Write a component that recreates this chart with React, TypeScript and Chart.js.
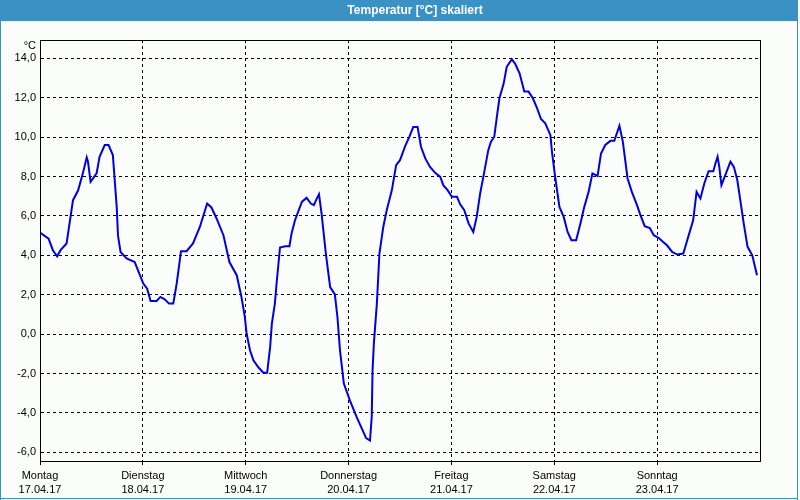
import React, { useEffect, useRef } from "react";
import { Chart, registerables } from "chart.js";

Chart.register(...registerables);

// hours since Monday 17.04.17 00:00
const hours = [
  0, 2.0, 3.0, 4.0, 4.8, 6.2, 7.7, 8.9, 10.0, 10.9, 11.2, 11.8, 13.2, 13.9, 15.1, 16.0, 17.0, 17.9, 18.2,
  18.8, 20.2, 22.1, 24.1, 25.0, 25.8, 27.2, 28.1, 29.1, 30.1, 31.1, 31.9, 32.9, 34.2, 35.7, 37.3, 39.0,
  40.0, 41.2, 42.8, 44.2, 45.9, 47.0, 47.8, 48.2, 49.0, 49.8, 50.9, 52.1, 53.0, 53.7, 54.1, 54.8, 55.2,
  56.0, 57.2, 58.2, 58.7, 59.5, 61.1, 62.2, 63.2, 63.9, 64.6, 65.1, 65.7, 66.7, 67.7, 68.8, 69.4, 70.0,
  70.9, 72.3, 73.9, 75.1, 76.1, 77.0, 77.4, 77.6, 77.9, 78.6, 79.2, 80.1, 80.9, 82.1, 83.1, 84.0, 85.2,
  86.2, 87.1, 88.1, 88.9, 89.9, 91.0, 92.2, 93.4, 94.1, 95.1, 96.1, 97.3, 98.0, 99.0, 100.0, 101.1,
  101.9, 102.7, 103.6, 104.6, 105.2, 106.0, 106.6, 107.2, 108.2, 108.9, 110.1, 110.9, 111.9, 113.0,
  114.0, 115.0, 116.0, 116.9, 117.9, 119.1, 119.5, 120.2, 121.2, 122.2, 123.1, 124.0, 125.1, 126.1,
  127.0, 128.0, 128.9, 130.1, 130.9, 131.9, 133.1, 134.0, 135.2, 136.0, 137.1, 138.1, 139.3, 140.1,
  141.1, 142.3, 143.2, 144.4, 145.4, 146.3, 147.5, 148.7, 150.1, 150.8, 151.6, 152.4, 153.2, 154.1,
  155.0, 156.0, 157.1, 157.6, 158.1, 158.5, 159.0, 159.9, 161.1, 161.9, 162.7, 163.4, 164.2, 165.1,
  166.2, 167.3,
];

const temps = [
  5.16, 4.85, 4.26, 3.95, 4.26, 4.6, 6.8, 7.3, 8.16, 8.97, 8.75, 7.73, 8.16, 9.0, 9.6, 9.6, 9.09, 6.46, 5.0,
  4.17, 3.84, 3.66, 2.57, 2.31, 1.68, 1.68, 1.89, 1.77, 1.55, 1.55, 2.57, 4.21, 4.21, 4.6, 5.44, 6.63,
  6.43, 5.87, 5.02, 3.66, 2.99, 1.89, 0.87, 0.03, -0.82, -1.33, -1.67, -1.96, -1.96, -0.65, 0.53, 1.55, 2.57,
  4.4, 4.46, 4.46, 5.11, 5.78, 6.71, 6.92, 6.63, 6.55, 6.89, 7.1, 6.12, 4.09, 2.39, 2.02, 0.87, -0.82,
  -2.51, -3.36, -4.21, -4.8, -5.28, -5.4, -4.21, -1.84, -0.48, 1.55, 4.09, 5.44, 6.29, 7.31, 8.58, 8.83, 9.54,
  10.02, 10.52, 10.52, 9.51, 8.92, 8.49, 8.19, 7.98, 7.56, 7.31, 6.97, 6.97, 6.6, 6.29, 5.62, 5.19,
  5.95, 7.14, 8.16, 9.34, 9.76, 10.02, 11.03, 11.97, 12.73, 13.57, 13.95, 13.71, 13.24, 12.31,
  12.31, 11.97, 11.46, 10.92, 10.7, 10.1, 9.17, 7.98, 6.46, 5.95, 5.19, 4.77, 4.77, 5.62,
  6.46, 7.22, 8.16, 8.03, 9.17, 9.6, 9.81, 9.81, 10.58, 9.76, 7.9, 7.22, 6.55, 6.04,
  5.48, 5.39, 5.02, 4.88, 4.68, 4.51, 4.17, 4.04, 4.09, 4.6, 5.19, 5.78, 7.22, 6.89,
  7.65, 8.27, 8.27, 8.66, 9.0, 8.49, 7.56, 8.07, 8.75, 8.49, 7.82, 6.8, 5.62, 4.43,
  4.0, 2.99,
];

const dayNames = ["Montag", "Dienstag", "Mittwoch", "Donnerstag", "Freitag", "Samstag", "Sonntag"];
const dayDates = ["17.04.17", "18.04.17", "19.04.17", "20.04.17", "21.04.17", "22.04.17", "23.04.17"];

const title = "Temperatur [°C] skaliert";
const unit = "°C";

const FONT = "'Liberation Sans', Arial, sans-serif";

export default function App() {
  const ref = useRef<HTMLCanvasElement | null>(null);

  useEffect(() => {
    document.body.style.margin = "0";
    const canvas = ref.current;
    if (!canvas) return;

    const framePlugin = {
      id: "frame",
      beforeDraw(chart: any) {
        const ctx = chart.ctx;
        ctx.save();
        ctx.fillStyle = "#fbfdfa";
        ctx.fillRect(0, 0, 800, 500);
        ctx.fillStyle = "#3b91c4";
        ctx.fillRect(0, 0, 798, 21);
        ctx.fillRect(0, 0, 1, 500);
        ctx.fillRect(797, 0, 1, 500);
        ctx.fillRect(0, 498, 798, 1);
        ctx.fillStyle = "#ffffff";
        ctx.font = "bold 12px " + FONT;
        ctx.textAlign = "center";
        ctx.textBaseline = "middle";
        ctx.fillText(title, 415, 11);
        ctx.restore();
      },
      afterDraw(chart: any) {
        const ctx = chart.ctx;
        const a = chart.chartArea;
        ctx.save();
        ctx.strokeStyle = "#000000";
        ctx.lineWidth = 1;
        ctx.setLineDash([]);
        ctx.strokeRect(Math.round(a.left) + 0.5, Math.round(a.top) + 0.5, Math.round(a.right - a.left), Math.round(a.bottom - a.top));
        ctx.fillStyle = "#000000";
        ctx.font = "11px " + FONT;
        ctx.textAlign = "right";
        ctx.textBaseline = "middle";
        ctx.fillText(unit, 36, 46);
        ctx.restore();
      },
    };

    const chart = new Chart(canvas, {
      type: "line",
      data: {
        datasets: [
          {
            data: hours.map((h, i) => ({ x: h, y: temps[i] })),
            borderColor: "#0000e6",
            borderWidth: 2,
            pointRadius: 0,
            tension: 0,
            fill: false,
          },
        ],
      },
      options: {
        animation: false,
        responsive: false,
        events: [],
        layout: { padding: { top: 40, right: 40, left: 0, bottom: 0 } },
        plugins: { legend: { display: false }, tooltip: { enabled: false }, title: { display: false } },
        scales: {
          x: {
            type: "linear",
            min: 0,
            max: 168,
            afterFit: (s: any) => {
              s.height = 39;
            },
            ticks: {
              stepSize: 24,
              autoSkip: false,
              maxRotation: 0,
              padding: 3,
              color: "#000000",
              font: { family: FONT, size: 11, lineHeight: 1.36 },
              callback: (v: any) => {
                const i = Math.round(Number(v) / 24);
                if (i >= 0 && i < dayNames.length) return [dayNames[i], dayDates[i]];
                return "";
              },
            },
            grid: {
              color: "#000000",
              lineWidth: 1,
              tickLength: 4,
              tickBorderDash: [3, 3],
              tickColor: (c: any) => (c.tick && c.tick.value >= 168 ? "rgba(0,0,0,0)" : "#000000"),
              drawTicks: true,
            },
            border: { display: true, color: "#000000", dash: [3, 3] },
          },
          y: {
            type: "linear",
            min: -6.44,
            max: 14.93,
            afterFit: (s: any) => {
              s.width = 40;
            },
            ticks: {
              stepSize: 2,
              includeBounds: false,
              padding: 4,
              color: "#000000",
              font: { family: FONT, size: 11 },
              callback: (v: any) => Number(v).toFixed(1).replace(".", ","),
            },
            grid: {
              color: "#000000",
              lineWidth: 1,
              drawTicks: false,
            },
            border: { display: true, color: "#000000", dash: [3, 3] },
          },
        },
      },
      plugins: [framePlugin],
    } as any);

    return () => chart.destroy();
  }, []);

  return (
    <div style={{ width: 800, height: 500 }}>
      <canvas ref={ref} width={800} height={500} style={{ display: "block", width: 800, height: 500 }} />
    </div>
  );
}
